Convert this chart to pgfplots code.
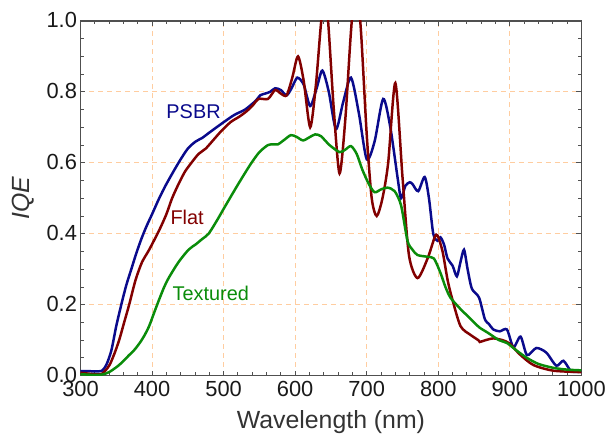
\documentclass[border=0pt]{standalone}
\usepackage{fontspec}
\setmainfont{Liberation Sans}
\usepackage{pgfplots}
\pgfplotsset{compat=1.18}

\definecolor{psbr}{RGB}{10,10,140}
\definecolor{flat}{RGB}{130,0,0}
\definecolor{textured}{RGB}{10,140,10}
\definecolor{gridc}{RGB}{255,205,160}
\definecolor{axisc}{RGB}{80,80,80}

\begin{document}
\begin{tikzpicture}
\begin{axis}[
    scale only axis,
    width=504pt,
    height=357pt,
    xmin=300, xmax=1000,
    ymin=0, ymax=1,
    xtick={300,400,...,1000},
    ytick={0,0.2,0.4,0.6,0.8,1.0},
    minor x tick num=4,
    minor y tick num=3,
    tick align=inside,
    major tick length=5pt,
    minor tick length=3.5pt,
    every tick/.style={axisc, line width=0.9pt},
    axis line style={axisc, line width=1.3pt},
    grid=major,
    major grid style={gridc, line width=0.9pt, dash pattern=on 5pt off 4pt},
    /pgf/number format/assume math mode=true,
    yticklabel style={/pgf/number format/fixed, /pgf/number format/fixed zerofill, /pgf/number format/precision=1, yshift=1pt},
    xticklabel style={/pgf/number format/1000 sep={}, yshift=-2pt},
    ticklabel style={font=\fontsize{22}{22}\selectfont, text=black!90},
    xlabel={Wavelength (nm)},
    ylabel={\textit{IQE}},
    xlabel style={font=\fontsize{25}{25}\selectfont, text=black!80, at={(axis description cs:0.5,-0.13)}, anchor=center},
    ylabel style={font=\fontsize{25}{25}\selectfont, text=black!80, at={(axis description cs:-0.115,0.5)}, anchor=center},
    every axis plot/.append style={line width=2.5pt, smooth, tension=0.45},
]

% PSBR
\addplot[psbr] coordinates {
(300,0.013) (310,0.013) (320,0.012) (330,0.014) (336,0.03) (343,0.07)
(350,0.14) (357,0.20) (364,0.255) (371,0.30) (378,0.345) (385,0.385)
(392,0.42) (400,0.455) (410,0.50) (420,0.54) (437,0.60) (450,0.64)
(461,0.66) (470,0.67) (480,0.685) (497,0.71) (515,0.735) (530,0.75)
(545,0.775) (551,0.79) (558,0.795) (565,0.80) (572,0.81) (580,0.805)
(588,0.79) (595,0.81) (603,0.84) (612,0.82) (621,0.76) (630,0.81)
(638,0.86) (647,0.80) (657,0.695) (667,0.77) (678,0.84) (689,0.74)
(700,0.61) (711,0.66) (723,0.78) (733,0.70) (743,0.56) (748,0.50)
(754,0.535) (760,0.545) (764,0.54) (772,0.52) (781,0.56) (787,0.50)
(793,0.40) (799,0.38) (803,0.39) (808,0.37) (813,0.33) (820,0.31)
(826,0.28) (831,0.32) (836,0.355) (841,0.30) (847,0.245) (857,0.22)
(865,0.16) (871,0.145) (877,0.13) (886,0.125) (896,0.13) (905,0.08)
(915,0.11) (924,0.058) (937,0.078) (951,0.065) (965,0.028) (975,0.042)
(986,0.012) (1000,0.012)
};

% Flat
\addplot[flat] coordinates {
(300,0.008) (310,0.006) (320,0.004) (330,0.005) (340,0.028) (347,0.06)
(354,0.10) (361,0.15) (368,0.20) (377,0.27) (386,0.32) (396,0.355)
(410,0.41) (420,0.455) (428,0.50) (437,0.54) (446,0.575) (455,0.60)
(465,0.625) (475,0.64) (486,0.665) (497,0.69) (510,0.715) (522,0.73)
(532,0.745) (540,0.76) (549,0.78) (562,0.78) (572,0.805) (580,0.795)
(588,0.79) (596,0.84) (604,0.90) (612,0.83) (621,0.70) (629,0.82)
(636,0.99) (641,1.07) (646,1.0) (654,0.75) (662,0.57) (670,0.72)
(678,0.97) (685,1.12) (692,0.97) (700,0.68) (707,0.50) (714,0.45)
(722,0.50) (730,0.60) (740,0.825) (750,0.56) (759,0.34) (771,0.275)
(785,0.33) (795,0.39) (799,0.395) (806,0.35) (813,0.27) (819,0.22)
(831,0.14) (845,0.115) (856,0.10) (858,0.095) (866,0.10) (877,0.105)
(890,0.10) (900,0.09) (914,0.06) (933,0.03) (961,0.014) (1000,0.01)
};

% Textured
\addplot[textured] coordinates {
(300,0.004) (310,0.003) (320,0.002) (330,0.003) (340,0.01) (354,0.03)
(368,0.058) (375,0.072) (382,0.09) (389,0.112) (396,0.14) (403,0.178)
(410,0.215) (417,0.25) (424,0.278) (437,0.32) (451,0.355) (461,0.37)
(470,0.385) (479,0.40) (490,0.435) (500,0.47) (516,0.525) (528,0.565)
(539,0.60) (550,0.63) (562,0.65) (570,0.652) (576,0.652) (585,0.665)
(594,0.678) (602,0.673) (611,0.663) (620,0.672) (628,0.68) (636,0.675)
(648,0.65) (662,0.63) (670,0.637) (678,0.647) (686,0.625) (694,0.58)
(703,0.54) (711,0.517) (720,0.525) (729,0.53) (739,0.52) (748,0.48)
(757,0.38) (764,0.355) (771,0.34) (785,0.335) (794,0.33) (803,0.29)
(810,0.25) (817,0.22) (830,0.19) (840,0.17) (850,0.15) (858,0.135)
(870,0.12) (885,0.10) (896,0.092) (910,0.07) (924,0.05) (940,0.033)
(961,0.022) (980,0.017) (1000,0.015)
};

\node[text=psbr, font=\fontsize{20}{20}\selectfont] at (axis cs:458,0.744) {PSBR};
\node[text=flat, font=\fontsize{20}{20}\selectfont] at (axis cs:449,0.445) {Flat};
\node[text=textured, font=\fontsize{20}{20}\selectfont] at (axis cs:482,0.232) {Textured};

\end{axis}
\useasboundingbox ([xshift=-81pt,yshift=-63pt]current axis.south west) rectangle ([xshift=24pt,yshift=21pt]current axis.north east);
\end{tikzpicture}
\end{document}
